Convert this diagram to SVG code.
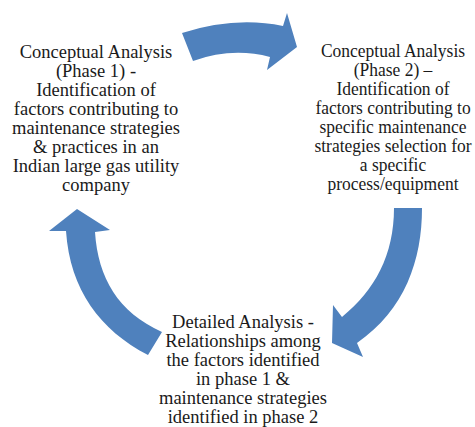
<svg xmlns="http://www.w3.org/2000/svg" width="475" height="427" viewBox="0 0 475 427">
<style>
.t{font-family:"Liberation Serif","Times New Roman",serif;font-size:18.5px;fill:#1a1a1a;text-anchor:middle}
.a{fill:#4f81bd;stroke:none}
</style>
<rect width="475" height="427" fill="#ffffff"/>
<g id="connectors">
<path class="a" d="M182,33 Q235,16 283,26 L287,13 L297,47 L267,70 L270,57 Q232,47 193,61 Z"/>
<path class="a" d="M394,208 L422,208 C422,260 405,310 357,343 L363,357 L332,343 L333,305 L342,317 C375,290 394,255 394,208 Z"/>
<path class="a" d="M77,209 L110,230 L95,232 C98,278 118,312 162,332 L148,355 C100,330 70,290 66,231 L49,231 Z"/>
</g>
<g id="node-phase1">
<text class="t" x="96" y="57.5">Conceptual Analysis</text>
<text class="t" x="96" y="76.5">(Phase 1) -</text>
<text class="t" x="96" y="95.5">Identification of</text>
<text class="t" x="96" y="114.5">factors contributing to</text>
<text class="t" x="96" y="133.5">maintenance strategies</text>
<text class="t" x="96" y="152.5">&amp; practices in an</text>
<text class="t" x="96" y="171.5">Indian large gas utility</text>
<text class="t" x="96" y="190.5">company</text>
</g>
<g id="node-phase2" transform="translate(393 0) scale(0.945 1)">
<text class="t" x="0" y="57.5">Conceptual Analysis</text>
<text class="t" x="0" y="76.5">(Phase 2) –</text>
<text class="t" x="0" y="95.5">Identification of</text>
<text class="t" x="0" y="114.5">factors contributing to</text>
<text class="t" x="0" y="133.5">specific maintenance</text>
<text class="t" x="0" y="152.5">strategies selection for</text>
<text class="t" x="0" y="171.5">a specific</text>
<text class="t" x="0" y="190.5">process/equipment</text>
</g>
<g id="node-detailed">
<text class="t" x="243" y="328.3">Detailed Analysis -</text>
<text class="t" x="243" y="347.3">Relationships among</text>
<text class="t" x="243" y="366.3">the factors identified</text>
<text class="t" x="243" y="385.3">in phase 1 &amp;</text>
<text class="t" x="243" y="404.3">maintenance strategies</text>
<text class="t" x="243" y="423.3">identified in phase 2</text>
</g>
</svg>
